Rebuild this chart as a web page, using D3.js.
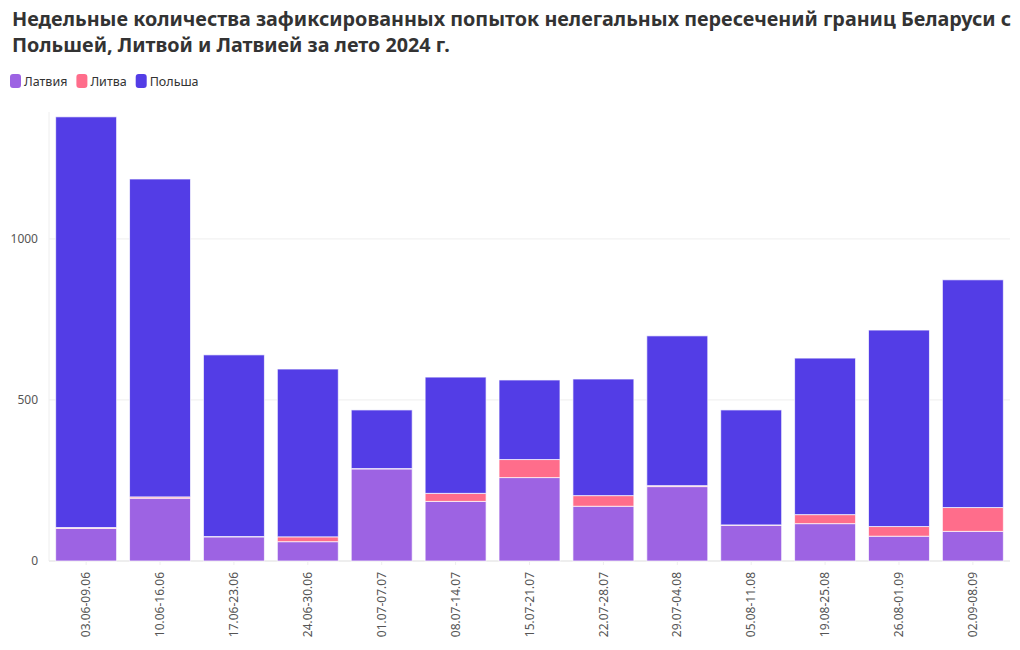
<!DOCTYPE html>
<html>
<head>
<meta charset="utf-8">
<script src="https://cdn.jsdelivr.net/npm/d3@7"></script>
<style>
  body { margin: 0; background: #fff; }
  svg { font-family: "Noto Sans", "Open Sans", sans-serif; }
</style>
</head>
<body>
<div id="chart"></div>
<script>
// Weeks (x categories)
const weeks = ["03.06-09.06", "10.06-16.06", "17.06-23.06", "24.06-30.06", "01.07-07.07",
  "08.07-14.07", "15.07-21.07", "22.07-28.07", "29.07-04.08", "05.08-11.08",
  "19.08-25.08", "26.08-01.09", "02.09-08.09"];

// Series values
const latvia    = [101, 195, 75, 60, 286, 185, 259, 170, 231, 111, 116, 77, 92];
const lithuania = [3, 4, 1, 15, 1, 25, 56, 33, 3, 1, 28, 30, 74];
const poland    = [1275, 987, 564, 521, 182, 361, 247, 362, 465, 357, 486, 610, 707];

const seriesNames = ["Латвия", "Литва", "Польша"];
const seriesColors = ["#9d63e3", "#ff6d8b", "#533de6"];
const yTicks = [0, 500, 1000];

const titleLines = [
  "Недельные количества зафиксированных попыток нелегальных пересечений границ Беларуси с",
  "Польшей, Литвой и Латвией за лето 2024 г."
];

const width = 1020, height = 650;
const margin = {top: 112, right: 10, bottom: 89, left: 49};

const svg = d3.select("#chart").append("svg")
  .attr("width", width)
  .attr("height", height);

// Title, two lines; shrink so the first line ends near the right edge
const titleG = svg.append("g")
  .attr("font-weight", 700)
  .attr("fill", "#333");
const t1 = titleG.append("text").attr("x", 12).attr("y", 26).attr("font-size", 21).text(titleLines[0]);
const w1 = t1.node().getComputedTextLength();
const titleSize = w1 > 1000 ? 21 * 1000 / w1 : 21;
t1.attr("font-size", titleSize);
titleG.append("text").attr("x", 12).attr("y", 52).attr("font-size", titleSize).text(titleLines[1]);

// Legend
const legend = svg.append("g").attr("font-size", 12.5).attr("fill", "#333");
let lx = 10;
seriesNames.forEach((name, i) => {
  const g = legend.append("g").attr("transform", `translate(${lx},74)`);
  g.append("rect").attr("width", 11).attr("height", 14).attr("rx", 3)
    .attr("fill", seriesColors[i]);
  const t = g.append("text").attr("x", 14).attr("y", 11.5).text(name);
  lx += 14 + t.node().getComputedTextLength() + 9;
});

// Stack data
const rows = weeks.map((w, i) => ({week: w, "Латвия": latvia[i], "Литва": lithuania[i], "Польша": poland[i]}));
const series = d3.stack().keys(seriesNames)(rows);

const x = d3.scaleBand()
  .domain(weeks)
  .range([margin.left, width - margin.right])
  .paddingInner(0.175)
  .paddingOuter(0.09);

const y = d3.scaleLinear()
  .domain([0, 1394])
  .range([height - margin.bottom, margin.top]);

const color = d3.scaleOrdinal().domain(seriesNames).range(seriesColors);

// Gridlines
svg.append("g")
  .selectAll("line")
  .data(yTicks)
  .join("line")
  .attr("x1", margin.left)
  .attr("x2", width - margin.right)
  .attr("y1", d => y(d))
  .attr("y2", d => y(d))
  .attr("stroke", d => d === 0 ? "#ddd" : "#eee");

// Y-axis line
svg.append("line")
  .attr("x1", margin.left).attr("x2", margin.left)
  .attr("y1", margin.top).attr("y2", height - margin.bottom)
  .attr("stroke", "#eee");

// Y-axis labels
svg.append("g")
  .attr("transform", `translate(${margin.left},0)`)
  .call(d3.axisLeft(y).tickValues(yTicks).tickFormat(d3.format("d")).tickSize(0).tickPadding(11))
  .call(g => g.select(".domain").remove())
  .selectAll("text")
  .attr("font-size", 12)
  .attr("font-family", "Noto Sans, sans-serif")
  .attr("fill", "#555");

// X-axis labels
svg.append("g")
  .attr("transform", `translate(0,${height - margin.bottom})`)
  .call(d3.axisBottom(x).tickSize(4))
  .call(g => g.select(".domain").remove())
  .call(g => g.selectAll(".tick line").attr("stroke", "#eee"))
  .selectAll("text")
  .attr("font-size", 12)
  .attr("font-family", "Noto Sans, sans-serif")
  .attr("fill", "#555")
  .attr("text-anchor", "end")
  .attr("dy", "0.35em")
  .attr("transform", "translate(0,11) rotate(-90)")
  .attr("x", 0)
  .attr("y", 0);

// Bars
svg.append("g")
  .selectAll("g")
  .data(series)
  .join("g")
  .attr("fill", d => color(d.key))
  .selectAll("rect")
  .data(d => d)
  .join("rect")
  .attr("x", d => x(d.data.week))
  .attr("y", d => y(d[1]))
  .attr("height", d => Math.max(0, y(d[0]) - y(d[1])))
  .attr("width", x.bandwidth())
  .attr("stroke", "#fff")
  .attr("stroke-opacity", 0.7)
  .attr("stroke-width", 1);
</script>
</body>
</html>
